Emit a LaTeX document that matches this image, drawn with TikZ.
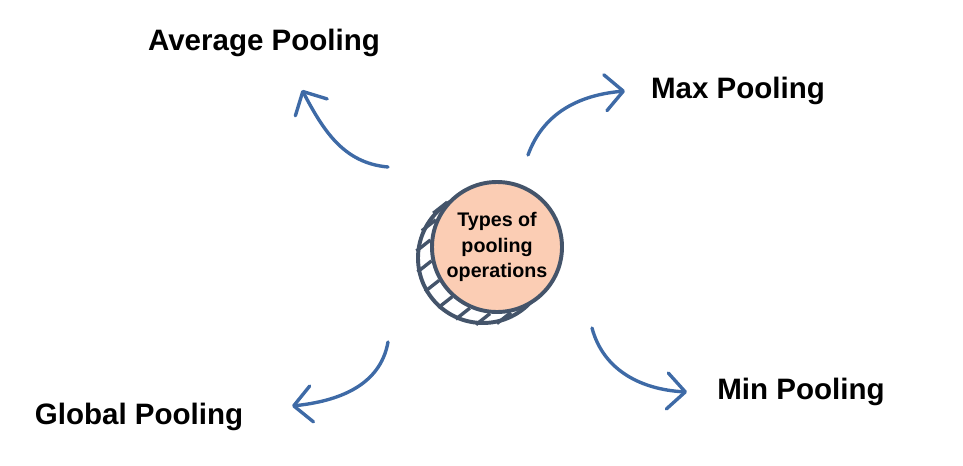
\documentclass[tikz,border=0pt]{standalone}
\usepackage{fontspec}
\setmainfont{Liberation Sans}
\usepackage{xcolor}
\usepackage{tikz}
\usetikzlibrary{arrows.meta}
\definecolor{PoolBlue}{RGB}{62,106,166}
\definecolor{CoinEdge}{RGB}{68,84,106}
\definecolor{CoinFill}{RGB}{251,205,180}
\tikzset{
    lbl/.style={font=\bfseries\fontsize{21}{25}\selectfont, text=black, inner sep=0pt},
    arr_blue/.style={draw=PoolBlue, line width=2.4pt, line cap=round, -{Straight Barb[length=4.5mm, width=9mm, round]}}
}

\begin{document}
\begin{tikzpicture}[
        % --- DONG XU ---
        coin_back/.style={circle, draw=CoinEdge, fill=white, line width=2.8pt, minimum size=3.25cm, inner sep=0pt},
        coin_front/.style={coin_back, fill=CoinFill, align=center, font=\bfseries\fontsize{14}{18}\selectfont},
        ridge/.style={draw=CoinEdge, line width=2.4pt}
    ]
        \useasboundingbox (0,0) rectangle (24.075,11.625);

        % --- DONG XU O GIUA ---
        \node[coin_back] (back) at (12.075,5.175) {};
        \foreach \a in {138,156,...,282}
            \draw[ridge] (back.\a) -- ++(0.35,0.275);
        \node[coin_front] (coin) at (12.425,5.45) {Types of\\pooling\\operations};

        % --- NHAN ---
        \node[lbl] (avg) at (6.60,10.55) {Average Pooling};
        \node[lbl] (max) at (18.45,9.35) {Max Pooling};
        \node[lbl] (min) at (20.025,1.83) {Min Pooling};
        \node[lbl] (glob) at (3.475,1.20) {Global Pooling};

        % --- MUI TEN ---
        \coordinate (avg_s) at (9.7,7.45);
        \coordinate (avg_e) at (7.55,9.375);
        \coordinate (max_s) at (13.2,7.75);
        \coordinate (max_e) at (15.625,9.35);
        \coordinate (glob_s) at (9.7,3.075);
        \coordinate (glob_e) at (7.3,1.475);
        \coordinate (min_s) at (14.8,3.425);
        \coordinate (min_e) at (17.175,1.825);

        \draw[arr_blue] (avg_s) to[out=175, in=-62] (avg_e);
        \draw[arr_blue] (max_s) to[out=70, in=185] (max_e);
        \draw[arr_blue] (glob_s) to[out=-100, in=6] (glob_e);
        \draw[arr_blue] (min_s) to[out=-75, in=177] (min_e);

    \end{tikzpicture}
\end{document}
